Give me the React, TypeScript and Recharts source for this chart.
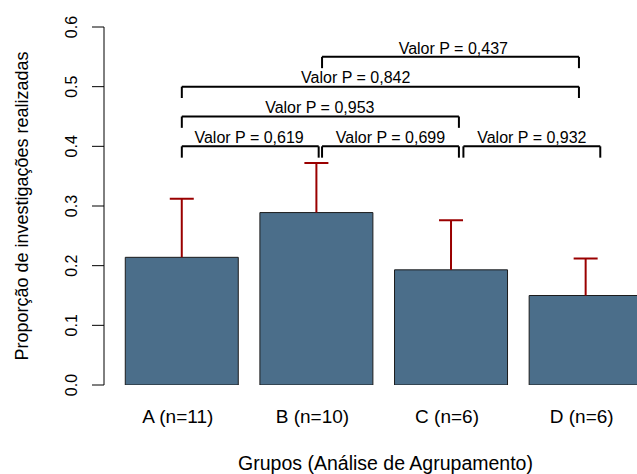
import React from "react";
import {
  BarChart,
  Bar,
  XAxis,
  YAxis,
  Label,
  ReferenceLine,
  ReferenceDot,
} from "recharts";

// grupos e valores
const groups = ["A (n=11)", "B (n=10)", "C (n=6)", "D (n=6)"];
const barPos = [0.7, 1.9, 3.1, 4.3]; // centros das barras (unidades do barplot)
const means = [0.214, 0.289, 0.193, 0.15];
const errUp = [0.098, 0.083, 0.083, 0.062];
const yTicks = [0, 0.1, 0.2, 0.3, 0.4, 0.5, 0.6];

// comparacoes entre grupos
const pLabels = [
  "Valor P = 0,619",
  "Valor P = 0,699",
  "Valor P = 0,932",
  "Valor P = 0,953",
  "Valor P = 0,842",
  "Valor P = 0,437",
];
const pFrom = [0.7, 1.95, 3.21, 0.7, 0.7, 1.95];
const pTo = [1.92, 3.17, 4.43, 3.17, 4.24, 4.24];
const pLevel = [0.4, 0.4, 0.4, 0.45, 0.5, 0.55];
const pTextX = [1.3, 2.56, 3.82, 1.93, 2.25, 3.12];

const TICK_DROP = 0.019;
const TEXT_LIFT = 0.015;
const RED = "#9a0000";

function YTick(props: any) {
  const { x, y, payload } = props;
  return (
    <text
      x={x}
      y={y}
      transform={`rotate(-90, ${x}, ${y})`}
      textAnchor="middle"
      fontSize={16}
      fill="#000"
    >
      {Number(payload.value).toFixed(1)}
    </text>
  );
}

function XTick(props: any) {
  const { x, y, payload } = props;
  const i = barPos.indexOf(payload.value);
  return (
    <text x={x - 4} y={y} textAnchor="middle" fontSize={19} fill="#000">
      {groups[i]}
    </text>
  );
}

function XTitle(props: any) {
  const vb = props.viewBox;
  return (
    <text
      x={vb.x + vb.width / 2 + 7}
      y={vb.y + 85}
      textAnchor="middle"
      fontSize={19.5}
      fill="#000"
    >
      Grupos (Análise de Agrupamento)
    </text>
  );
}

function YTitle(props: any) {
  const vb = props.viewBox;
  const x = vb.x + 28;
  const y = vb.y + vb.height / 2;
  return (
    <text
      x={x}
      y={y}
      transform={`rotate(-90, ${x}, ${y})`}
      textAnchor="middle"
      fontSize={18}
      fill="#000"
    >
      Proporção de investigações realizadas
    </text>
  );
}

function ErrorShape(props: any) {
  const { x, y, width, height } = props;
  if (x == null || y == null) return null;
  const cx = x + width / 2;
  return (
    <g>
      <line x1={cx} x2={cx} y1={y + height} y2={y} stroke={RED} strokeWidth={2} />
      <line x1={cx - 12} x2={cx + 12} y1={y} y2={y} stroke={RED} strokeWidth={2} />
    </g>
  );
}

export default function App() {
  const data = groups.map((g, i) => ({
    group: g,
    pos: barPos[i],
    mean: means[i],
    err: errUp[i],
  }));

  return (
    <div
      style={{
        position: "absolute",
        left: 0,
        top: 0,
        width: 637,
        height: 474,
        overflow: "hidden",
        background: "#fff",
        fontFamily: '"Liberation Sans", Arial, sans-serif',
      }}
    >
      <BarChart
        width={653}
        height={474}
        data={data}
        margin={{ top: 27, right: 0, bottom: 0, left: 0 }}
        barCategoryGap="8%"
      >
        <XAxis
          dataKey="pos"
          type="number"
          domain={[0.1, 4.9]}
          ticks={barPos}
          allowDataOverflow
          height={89}
          padding={{ left: 10.5, right: 0 }}
          axisLine={false}
          tickLine={false}
          tickSize={0}
          tickMargin={38}
          interval={0}
          tick={<XTick />}
        >
          <Label content={XTitle} />
        </XAxis>
        <YAxis
          domain={[0, 0.6]}
          ticks={yTicks}
          interval={0}
          width={104}
          tickSize={12}
          tickMargin={15}
          stroke="#000"
          tick={<YTick />}
          allowDataOverflow
        >
          <Label content={YTitle} />
        </YAxis>

        <Bar
          dataKey="mean"
          stackId="s"
          fill="#4b6e8a"
          stroke="#1c1c1c"
          strokeWidth={1}
          isAnimationActive={false}
        />
        <Bar
          dataKey="err"
          stackId="s"
          fill="none"
          shape={ErrorShape}
          isAnimationActive={false}
        />

        {pLabels.map((lab, i) => (
          <ReferenceLine
            key={`h${i}`}
            segment={[
              { x: pFrom[i], y: pLevel[i] },
              { x: pTo[i], y: pLevel[i] },
            ]}
            stroke="#000"
            strokeWidth={2}
          />
        ))}
        {pLabels.map((lab, i) => (
          <ReferenceLine
            key={`l${i}`}
            segment={[
              { x: pFrom[i], y: pLevel[i] },
              { x: pFrom[i], y: pLevel[i] - TICK_DROP },
            ]}
            stroke="#000"
            strokeWidth={2}
          />
        ))}
        {pLabels.map((lab, i) => (
          <ReferenceLine
            key={`r${i}`}
            segment={[
              { x: pTo[i], y: pLevel[i] },
              { x: pTo[i], y: pLevel[i] - TICK_DROP },
            ]}
            stroke="#000"
            strokeWidth={2}
          />
        ))}
        {pLabels.map((lab, i) => (
          <ReferenceDot
            key={`t${i}`}
            x={pTextX[i]}
            y={pLevel[i] + TEXT_LIFT}
            r={0}
            fill="none"
            stroke="none"
            label={{ value: lab, position: "center", fontSize: 16, fill: "#000" }}
          />
        ))}
      </BarChart>
    </div>
  );
}
